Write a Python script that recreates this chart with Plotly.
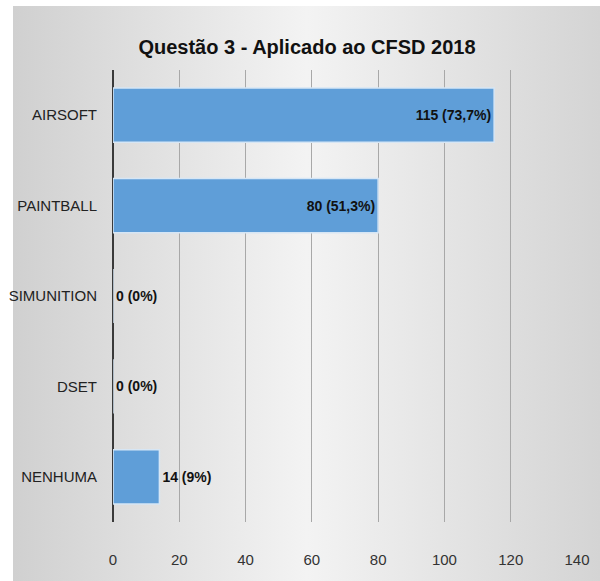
import urllib.parse
import plotly.graph_objects as go

# Survey answers (question 3, CFSD 2018)
categories = ["AIRSOFT", "PAINTBALL", "SIMUNITION", "DSET", "NENHUMA"]
counts = [115, 80, 0, 0, 14]
percent_labels = ["73,7%", "51,3%", "0%", "0%", "9%"]
x_ticks = [0, 20, 40, 60, 80, 100, 120, 140]

bar_text = [f"{c} ({p})" for c, p in zip(counts, percent_labels)]
text_pos = ["inside" if c >= 40 else "outside" for c in counts]

W, H = 600, 581
ML, MR, MT, MB = 113, 23, 70, 59
PW, PH = W - ML - MR, H - MT - MB

FONT = "Liberation Sans, Arial, sans-serif"
LABEL_FONT = dict(family=FONT, size=14, color="#111111", weight="bold")

fig = go.Figure(
    go.Bar(
        y=categories,
        x=counts,
        orientation="h",
        width=0.6,
        marker=dict(color="#5f9ed8", line=dict(color="#d6e6f5", width=1.5)),
        text=bar_text,
        textposition=text_pos,
        insidetextanchor="end",
        textfont=LABEL_FONT,
        insidetextfont=LABEL_FONT,
        outsidetextfont=LABEL_FONT,
        cliponaxis=False,
        hoverinfo="skip",
    )
)

# soft grey-white-grey backdrop behind the chart area
svg = (
    "<svg xmlns='http://www.w3.org/2000/svg' width='587' height='575'>"
    "<defs><linearGradient id='g' x1='0' y1='0' x2='1' y2='0'>"
    "<stop offset='0' stop-color='#d0d0d0'/>"
    "<stop offset='0.5' stop-color='#f3f3f3'/>"
    "<stop offset='1' stop-color='#d4d4d4'/>"
    "</linearGradient></defs>"
    "<rect width='587' height='575' fill='url(#g)'/>"
    "</svg>"
)
src = "data:image/svg+xml;charset=utf-8," + urllib.parse.quote(svg)


def px_to_paper_x(px):
    return (px - ML) / PW


def px_to_paper_y(py):
    return (H - MB - py) / PH


fig.add_layout_image(
    dict(
        source=src,
        xref="paper",
        yref="paper",
        x=px_to_paper_x(13),
        y=px_to_paper_y(6),
        sizex=(W - 13) / PW,
        sizey=(H - 6) / PH,
        sizing="stretch",
        xanchor="left",
        yanchor="top",
        layer="below",
    )
)

fig.update_layout(
    width=W,
    height=H,
    margin=dict(l=ML, r=MR, t=MT, b=MB),
    paper_bgcolor="white",
    plot_bgcolor="rgba(0,0,0,0)",
    showlegend=False,
    title=dict(
        text="Questão 3 - Aplicado ao CFSD 2018",
        x=307 / W,
        xanchor="center",
        y=1 - 47 / H,
        yanchor="middle",
        font=dict(family=FONT, size=20, color="#111111", weight="bold"),
    ),
    xaxis=dict(
        range=[0, 140],
        tickvals=x_ticks,
        showgrid=True,
        gridcolor="#a8a8a8",
        gridwidth=1,
        zeroline=True,
        zerolinecolor="#3a3a3a",
        zerolinewidth=2,
        showline=False,
        ticks="outside",
        ticklen=24,
        tickcolor="rgba(0,0,0,0)",
        tickfont=dict(family=FONT, size=15, color="#333333"),
        automargin=False,
        fixedrange=True,
    ),
    yaxis=dict(
        categoryorder="array",
        categoryarray=categories,
        autorange="reversed",
        showgrid=False,
        zeroline=False,
        showline=False,
        ticks="outside",
        ticklen=12,
        tickcolor="rgba(0,0,0,0)",
        tickfont=dict(family=FONT, size=15, color="#222222"),
        automargin=False,
        fixedrange=True,
    ),
)

fig.write_html("out.html")
